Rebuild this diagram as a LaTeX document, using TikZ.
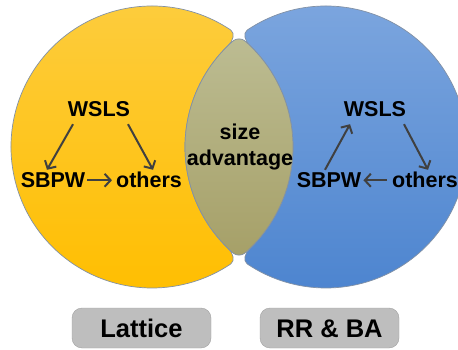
\documentclass[tikz,border=0pt]{standalone}
\usepackage{fontspec}
\setmainfont{Liberation Sans}
\usetikzlibrary{arrows.meta,calc}
\definecolor{yelT}{RGB}{253,205,64}
\definecolor{yelB}{RGB}{255,190,0}
\definecolor{bluT}{RGB}{126,167,223}
\definecolor{bluB}{RGB}{76,132,207}
\definecolor{lenT}{RGB}{188,188,146}
\definecolor{lenB}{RGB}{166,160,104}
\definecolor{edgeC}{RGB}{130,145,165}
\definecolor{arrC}{RGB}{64,64,64}
\definecolor{tagC}{RGB}{190,190,190}
\begin{document}
\begin{tikzpicture}[x=1pt,y=1pt,
  lbl/.style={font=\bfseries\fontsize{21.5}{26}\selectfont, inner sep=0pt, text height=15.5pt, text depth=0pt, anchor=base},
  arr/.style={draw=arrC, line width=2pt, -{Straight Barb[length=6pt,width=13pt]}},
  tag/.style={font=\bfseries\fontsize{25.5}{30}\selectfont, fill=tagC, draw=tagC!85!black, line width=0.4pt, rounded corners=10pt, minimum width=139pt, minimum height=40pt, inner sep=0pt, text height=18pt, text depth=0pt},
  shapeedge/.style={draw=edgeC, line width=0.7pt}]
\useasboundingbox (0,0) rectangle (458,-350);
\coordinate (cl) at (152,-147);
\coordinate (cr) at (326,-147);
\coordinate (P) at (239,-36);
\coordinate (Q) at (239,-258);
% yellow crescent
\coordinate (ya) at ([shift={(cl)}]56:141);
\coordinate (yb) at ([shift={(cl)}]304:141);
\coordinate (yc) at ([shift={(cr)}]226:141);
\coordinate (yd) at ([shift={(cr)}]134:141);
\shade[shapeedge, top color=yelT, bottom color=yelB]
  (ya) arc[start angle=56, end angle=304, radius=141]
  .. controls ($(yb)!0.5!(Q)$) and ($(Q)!0.5!(yc)$) .. (yc)
  arc[start angle=226, end angle=134, radius=141]
  .. controls ($(yd)!0.5!(P)$) and ($(P)!0.5!(ya)$) .. (ya) -- cycle;
% blue crescent
\coordinate (ba) at ([shift={(cr)}]124:141);
\coordinate (bb) at ([shift={(cr)}]-124:141);
\coordinate (bc) at ([shift={(cl)}]-46:141);
\coordinate (bd) at ([shift={(cl)}]46:141);
\shade[shapeedge, top color=bluT, bottom color=bluB]
  (ba) arc[start angle=124, end angle=-124, radius=141]
  .. controls ($(bb)!0.5!(Q)$) and ($(Q)!0.5!(bc)$) .. (bc)
  arc[start angle=-46, end angle=46, radius=141]
  .. controls ($(bd)!0.5!(P)$) and ($(P)!0.5!(ba)$) .. (ba) -- cycle;
% lens
\coordinate (la) at ([shift={(cr)}]131:141);
\coordinate (lc) at ([shift={(cr)}]229:141);
\coordinate (ld) at ([shift={(cl)}]-49:141);
\coordinate (le) at ([shift={(cl)}]49:141);
\shade[shapeedge, top color=lenT, bottom color=lenB]
  (la) arc[start angle=131, end angle=229, radius=141]
  .. controls ($(lc)!0.5!(Q)$) and ($(Q)!0.5!(ld)$) .. (ld)
  arc[start angle=-49, end angle=49, radius=141]
  .. controls ($(le)!0.5!(P)$) and ($(P)!0.5!(la)$) .. (la) -- cycle;
% texts
\node[lbl] (lw) at (99,-117) {WSLS};
\node[lbl] (ls) at (53,-188) {SBPW};
\node[lbl] (lo) at (149,-188) {others};
\node[lbl] (rw) at (375,-117) {WSLS};
\node[lbl] (rs) at (329,-188) {SBPW};
\node[lbl] (ro) at (425,-188) {others};
\node[lbl] (sz) at (240,-140) {size};
\node[lbl] (adv) at (240,-166) {advantage};
% arrows
\draw[arr] ([shift={(-26,-7)}]lw.south) -- ([shift={(-6,2.5)}]ls.north);
\draw[arr] ([shift={(29,-7)}]lw.south) -- ([shift={(4,2.5)}]lo.north);
\draw[arr, shorten <=2pt, shorten >=4pt] (ls.east) -- (lo.west);
\draw[arr] ([shift={(-4,2.5)}]rs.north) -- ([shift={(-25,-7)}]rw.south);
\draw[arr] ([shift={(29,-7)}]rw.south) -- ([shift={(3,2.5)}]ro.north);
\draw[arr, shorten <=5pt, shorten >=2pt] (ro.west) -- (rs.east);
% tags
\node[tag] (lat) at (141.5,-328) {Lattice};
\node[tag] (rrba) at (329.5,-328) {RR \& BA};
\end{tikzpicture}
\end{document}
